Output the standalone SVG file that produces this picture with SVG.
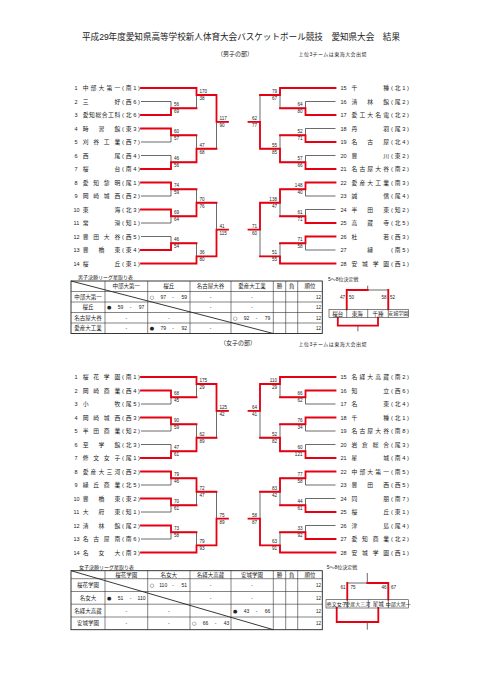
<svg xmlns="http://www.w3.org/2000/svg" xmlns:xlink="http://www.w3.org/1999/xlink" width="481" height="680" viewBox="0 0 481 680">
<style>
.g{fill:none;stroke:#444;stroke-width:0.8}
.r{fill:none;stroke:#e60012;stroke-width:1.8;stroke-linecap:square}
.tb{fill:none;stroke:#333;stroke-width:0.6}
.tbo{fill:none;stroke:#222;stroke-width:0.9}
text{font-family:"Liberation Sans","Noto Sans CJK JP",sans-serif;fill:#222}
.n{font-size:5.5px}
.t{font-size:5.8px}
.s{font-size:4.6px}
.se{font-size:4.6px;text-anchor:end}
.h{font-size:5.5px;text-anchor:middle}
.c{font-size:5px;text-anchor:middle}
.m{font-size:5px;text-anchor:middle;font-family:"DejaVu Sans",sans-serif}
.sm{font-size:5px}
</style>
<defs>
<path id="qt" class="g" d="M141 88H196.5M141 101.5H171M141 115H171M141 128.5H171M141 142H171M141 155.5H171M141 169H171M171 101.5V115M171 128.5V142M171 155.5V169M171 108.25H196.5M171 135.25H196.5M171 162.25H196.5M196.5 88V108.25M196.5 135.25V162.25M196.5 95H216.5M196.5 148.75H216.5M216.5 95V148.75M216.5 121.9H228"/>
<path id="qb" class="g" d="M141 182.5H171M141 196H171M141 209.5H171M141 223H171M141 236.5H171M141 250H171M141 263.5H196.5M171 182.5V196M171 209.5V223M171 236.5V250M171 189.25H196.5M171 216.25H196.5M171 243.25H196.5M196.5 189.25V216.25M196.5 243.25V263.5M196.5 202.75H216.5M196.5 256.4H216.5M216.5 202.75V256.4M216.5 229.6H228"/>
</defs>
<rect width="481" height="680" fill="#fff"/>
<g id="title">
<text x="82" y="40" font-size="8.6" textLength="318">平成29年度愛知県高等学校新人体育大会バスケットボール競技　愛知県大会　結果</text>
<text x="217" y="56" font-size="6" textLength="36">（男子の部）</text>
<text x="298.5" y="56" font-size="5" textLength="68">上位3チームは東海大会出場</text>
<text x="220" y="345" font-size="6" textLength="36">（女子の部）</text>
<text x="298.5" y="346" font-size="5" textLength="68">上位3チームは東海大会出場</text>
</g>
<g id="connectors">
<g id="m-left">
<use xlink:href="#qt"/><use xlink:href="#qb"/>
<path class="r" d="M141 88H196.5V95H216.5V121.9H228M141 115H171V108.25H196.5M141 128.5H171V135.25H196.5M141 169H171V162.25H196.5V148.75H216.5M141 182.5H171V189.25H196.5M141 209.5H171V216.25H196.5V202.75H216.5M141 250H171V243.25H196.5M141 263.5H196.5V256.4H216.5V229.6H228"/>
</g>
<g id="m-right" transform="matrix(-1 0 0 1 476.5 0)">
<use xlink:href="#qt"/><use xlink:href="#qb"/>
<path class="r" d="M141 88H196.5V95H216.5M141 115H171V108.25H196.5M141 142H171V135.25H196.5M141 169H171V162.25H196.5V148.75H216.5V121.9H228M141 182.5H171V189.25H196.5V202.75H216.5V229.6H228M141 223H171V216.25H196.5M141 236.5H171V243.25H196.5M141 263.5H196.5V256.4H216.5"/>
</g>
<g id="f-left" transform="translate(0 289)">
<use xlink:href="#qt"/><use xlink:href="#qb"/>
<path class="r" d="M141 88H196.5V95H216.5V121.9H228M141 101.5H171V108.25H196.5M141 128.5H171V135.25H196.5M141 169H171V162.25H196.5V148.75H216.5M141 182.5H171V189.25H196.5V202.75H216.5M141 209.5H171V216.25H196.5M141 236.5H171V243.25H196.5M141 263.5H196.5V256.4H216.5V229.6H228"/>
</g>
<g id="f-right" transform="matrix(-1 0 0 1 476.5 289)">
<use xlink:href="#qt"/><use xlink:href="#qb"/>
<path class="r" d="M141 88H196.5V95H216.5V121.9H228M141 101.5H171V108.25H196.5M141 128.5H171V135.25H196.5M141 169H171V162.25H196.5V148.75H216.5M141 182.5H171V189.25H196.5V202.75H216.5M141 223H171V216.25H196.5M141 250H171V243.25H196.5M141 263.5H196.5V256.4H216.5V229.6H228"/>
</g>
</g>
<g id="male-teams-left">
<text class="n" x="74.5" y="90.1">1</text><text class="t" x="82.7" y="90.1" textLength="37.5">中部大第一</text><text class="t" x="122" y="90.1" textLength="18">(南1)</text>
<text class="n" x="74.5" y="103.6">2</text><text class="t" x="82.7" y="103.6" textLength="37.5">三好</text><text class="t" x="122" y="103.6" textLength="18">(西6)</text>
<text class="n" x="74.5" y="117.1">3</text><text class="t" x="82.7" y="117.1" textLength="37.5">愛知総合工科</text><text class="t" x="122" y="117.1" textLength="18">(北6)</text>
<text class="n" x="74.5" y="130.6">4</text><text class="t" x="82.7" y="130.6" textLength="37.5">時習館</text><text class="t" x="122" y="130.6" textLength="18">(東3)</text>
<text class="n" x="74.5" y="144.1">5</text><text class="t" x="82.7" y="144.1" textLength="37.5">刈谷工業</text><text class="t" x="122" y="144.1" textLength="18">(西7)</text>
<text class="n" x="74.5" y="157.6">6</text><text class="t" x="82.7" y="157.6" textLength="37.5">西尾</text><text class="t" x="122" y="157.6" textLength="18">(西4)</text>
<text class="n" x="74.5" y="171.1">7</text><text class="t" x="82.7" y="171.1" textLength="37.5">桜台</text><text class="t" x="122" y="171.1" textLength="18">(南4)</text>
<text class="n" x="74.5" y="184.6">8</text><text class="t" x="82.7" y="184.6" textLength="37.5">愛知黎明</text><text class="t" x="122" y="184.6" textLength="18">(尾1)</text>
<text class="n" x="74.5" y="198.1">9</text><text class="t" x="82.7" y="198.1" textLength="37.5">岡崎城西</text><text class="t" x="122" y="198.1" textLength="18">(西2)</text>
<text class="n" x="73.5" y="211.6">10</text><text class="t" x="82.7" y="211.6" textLength="37.5">東海</text><text class="t" x="122" y="211.6" textLength="18">(北3)</text>
<text class="n" x="73.5" y="225.1">11</text><text class="t" x="82.7" y="225.1" textLength="37.5">常滑</text><text class="t" x="122" y="225.1" textLength="18">(知1)</text>
<text class="n" x="73.5" y="238.6">12</text><text class="t" x="82.7" y="238.6" textLength="37.5">豊田大谷</text><text class="t" x="122" y="238.6" textLength="18">(西5)</text>
<text class="n" x="73.5" y="252.1">13</text><text class="t" x="82.7" y="252.1" textLength="37.5">豊橋東</text><text class="t" x="122" y="252.1" textLength="18">(東4)</text>
<text class="n" x="73.5" y="265.6">14</text><text class="t" x="82.7" y="265.6" textLength="37.5">桜丘</text><text class="t" x="122" y="265.6" textLength="18">(東1)</text>
</g>
<g id="male-teams-right">
<text class="n" x="340.5" y="90.1">15</text><text class="t" x="351.5" y="90.1" textLength="37.5">千種</text><text class="t" x="391" y="90.1" textLength="18">(北1)</text>
<text class="n" x="340.5" y="103.6">16</text><text class="t" x="351.5" y="103.6" textLength="37.5">清林館</text><text class="t" x="391" y="103.6" textLength="18">(尾2)</text>
<text class="n" x="340.5" y="117.1">17</text><text class="t" x="351.5" y="117.1" textLength="37.5">愛工大名電</text><text class="t" x="391" y="117.1" textLength="18">(北2)</text>
<text class="n" x="340.5" y="130.6">18</text><text class="t" x="351.5" y="130.6" textLength="37.5">丹羽</text><text class="t" x="391" y="130.6" textLength="18">(尾3)</text>
<text class="n" x="340.5" y="144.1">19</text><text class="t" x="351.5" y="144.1" textLength="37.5">名古屋</text><text class="t" x="391" y="144.1" textLength="18">(北4)</text>
<text class="n" x="340.5" y="157.6">20</text><text class="t" x="351.5" y="157.6" textLength="37.5">豊川</text><text class="t" x="391" y="157.6" textLength="18">(東2)</text>
<text class="n" x="340.5" y="171.1">21</text><text class="t" x="351.5" y="171.1" textLength="37.5">名古屋大谷</text><text class="t" x="391" y="171.1" textLength="18">(南2)</text>
<text class="n" x="340.5" y="184.6">22</text><text class="t" x="351.5" y="184.6" textLength="37.5">愛産大工業</text><text class="t" x="391" y="184.6" textLength="18">(南3)</text>
<text class="n" x="340.5" y="198.1">23</text><text class="t" x="351.5" y="198.1" textLength="37.5">誠信</text><text class="t" x="391" y="198.1" textLength="18">(尾4)</text>
<text class="n" x="340.5" y="211.6">24</text><text class="t" x="351.5" y="211.6" textLength="37.5">半田東</text><text class="t" x="391" y="211.6" textLength="18">(知2)</text>
<text class="n" x="340.5" y="225.1">25</text><text class="t" x="351.5" y="225.1" textLength="37.5">高蔵寺</text><text class="t" x="391" y="225.1" textLength="18">(北5)</text>
<text class="n" x="340.5" y="238.6">26</text><text class="t" x="351.5" y="238.6" textLength="37.5">杜若</text><text class="t" x="391" y="238.6" textLength="18">(西3)</text>
<text class="n" x="340.5" y="252.1">27</text><text class="t" x="367.3" y="252.1">緑</text><text class="t" x="391" y="252.1" textLength="18">(南5)</text>
<text class="n" x="340.5" y="265.6">28</text><text class="t" x="351.5" y="265.6" textLength="37.5">安城学園</text><text class="t" x="391" y="265.6" textLength="18">(西1)</text>
</g>
<g id="female-teams-left">
<text class="n" x="74.5" y="379.1">1</text><text class="t" x="82.7" y="379.1" textLength="37.5">桜花学園</text><text class="t" x="122" y="379.1" textLength="18">(南1)</text>
<text class="n" x="74.5" y="392.6">2</text><text class="t" x="82.7" y="392.6" textLength="37.5">岡崎商業</text><text class="t" x="122" y="392.6" textLength="18">(西4)</text>
<text class="n" x="74.5" y="406.1">3</text><text class="t" x="82.7" y="406.1" textLength="37.5">小牧</text><text class="t" x="122" y="406.1" textLength="18">(尾5)</text>
<text class="n" x="74.5" y="419.6">4</text><text class="t" x="82.7" y="419.6" textLength="37.5">岡崎城西</text><text class="t" x="122" y="419.6" textLength="18">(西3)</text>
<text class="n" x="74.5" y="433.1">5</text><text class="t" x="82.7" y="433.1" textLength="37.5">半田商業</text><text class="t" x="122" y="433.1" textLength="18">(知2)</text>
<text class="n" x="74.5" y="446.6">6</text><text class="t" x="82.7" y="446.6" textLength="37.5">至学館</text><text class="t" x="122" y="446.6" textLength="18">(北3)</text>
<text class="n" x="74.5" y="460.1">7</text><text class="t" x="82.7" y="460.1" textLength="37.5">修文女子</text><text class="t" x="122" y="460.1" textLength="18">(尾1)</text>
<text class="n" x="74.5" y="473.6">8</text><text class="t" x="82.7" y="473.6" textLength="37.5">愛産大三河</text><text class="t" x="122" y="473.6" textLength="18">(西2)</text>
<text class="n" x="74.5" y="487.1">9</text><text class="t" x="82.7" y="487.1" textLength="37.5">緑丘商業</text><text class="t" x="122" y="487.1" textLength="18">(北5)</text>
<text class="n" x="73.5" y="500.6">10</text><text class="t" x="82.7" y="500.6" textLength="37.5">豊橋東</text><text class="t" x="122" y="500.6" textLength="18">(東2)</text>
<text class="n" x="73.5" y="514.1">11</text><text class="t" x="82.7" y="514.1" textLength="37.5">大府東</text><text class="t" x="122" y="514.1" textLength="18">(知1)</text>
<text class="n" x="73.5" y="527.6">12</text><text class="t" x="82.7" y="527.6" textLength="37.5">清林館</text><text class="t" x="122" y="527.6" textLength="18">(尾2)</text>
<text class="n" x="73.5" y="541.1">13</text><text class="t" x="82.7" y="541.1" textLength="37.5">名古屋南</text><text class="t" x="122" y="541.1" textLength="18">(南6)</text>
<text class="n" x="73.5" y="554.6">14</text><text class="t" x="82.7" y="554.6" textLength="37.5">名女大</text><text class="t" x="122" y="554.6" textLength="18">(南3)</text>
</g>
<g id="female-teams-right">
<text class="n" x="340.5" y="379.1">15</text><text class="t" x="351.5" y="379.1" textLength="37.5">名経大高蔵</text><text class="t" x="391" y="379.1" textLength="18">(南2)</text>
<text class="n" x="340.5" y="392.6">16</text><text class="t" x="351.5" y="392.6" textLength="37.5">知立</text><text class="t" x="391" y="392.6" textLength="18">(西6)</text>
<text class="n" x="340.5" y="406.1">17</text><text class="t" x="351.5" y="406.1" textLength="37.5">名東</text><text class="t" x="391" y="406.1" textLength="18">(北4)</text>
<text class="n" x="340.5" y="419.6">18</text><text class="t" x="351.5" y="419.6" textLength="37.5">千種</text><text class="t" x="391" y="419.6" textLength="18">(北1)</text>
<text class="n" x="340.5" y="433.1">19</text><text class="t" x="351.5" y="433.1" textLength="37.5">名古屋大谷</text><text class="t" x="391" y="433.1" textLength="18">(南8)</text>
<text class="n" x="340.5" y="446.6">20</text><text class="t" x="351.5" y="446.6" textLength="37.5">岩倉総合</text><text class="t" x="391" y="446.6" textLength="18">(尾3)</text>
<text class="n" x="340.5" y="460.1">21</text><text class="t" x="351.5" y="460.1" textLength="37.5">星城</text><text class="t" x="391" y="460.1" textLength="18">(南4)</text>
<text class="n" x="340.5" y="473.6">22</text><text class="t" x="351.5" y="473.6" textLength="37.5">中部大第一</text><text class="t" x="391" y="473.6" textLength="18">(南5)</text>
<text class="n" x="340.5" y="487.1">23</text><text class="t" x="351.5" y="487.1" textLength="37.5">豊田西</text><text class="t" x="391" y="487.1" textLength="18">(西5)</text>
<text class="n" x="340.5" y="500.6">24</text><text class="t" x="351.5" y="500.6" textLength="37.5">同朋</text><text class="t" x="391" y="500.6" textLength="18">(南7)</text>
<text class="n" x="340.5" y="514.1">25</text><text class="t" x="351.5" y="514.1" textLength="37.5">桜丘</text><text class="t" x="391" y="514.1" textLength="18">(東1)</text>
<text class="n" x="340.5" y="527.6">26</text><text class="t" x="351.5" y="527.6" textLength="37.5">津島</text><text class="t" x="391" y="527.6" textLength="18">(尾4)</text>
<text class="n" x="340.5" y="541.1">27</text><text class="t" x="351.5" y="541.1" textLength="37.5">愛知商業</text><text class="t" x="391" y="541.1" textLength="18">(北2)</text>
<text class="n" x="340.5" y="554.6">28</text><text class="t" x="351.5" y="554.6" textLength="37.5">安城学園</text><text class="t" x="391" y="554.6" textLength="18">(西1)</text>
</g>
<g id="scores">
<text class="s" x="174" y="106.25">56</text><text class="s" x="174" y="113.25">69</text>
<text class="s" x="174" y="133.25">60</text><text class="s" x="174" y="140.25">57</text>
<text class="s" x="174" y="160.25">46</text><text class="s" x="174" y="167.25">56</text>
<text class="s" x="199.5" y="93">170</text><text class="s" x="199.5" y="100">38</text>
<text class="s" x="199.5" y="146.75">47</text><text class="s" x="199.5" y="153.75">68</text>
<text class="s" x="219.5" y="119.9">117</text><text class="s" x="219.5" y="126.9">90</text>
<text class="s" x="174" y="187.25">74</text><text class="s" x="174" y="194.25">59</text>
<text class="s" x="174" y="214.25">69</text><text class="s" x="174" y="221.25">64</text>
<text class="s" x="174" y="241.25">46</text><text class="s" x="174" y="248.25">54</text>
<text class="s" x="199.5" y="200.75">70</text><text class="s" x="199.5" y="207.75">76</text>
<text class="s" x="199.5" y="254.4">36</text><text class="s" x="199.5" y="261.4">80</text>
<text class="s" x="219.5" y="227.6">41</text><text class="s" x="219.5" y="234.6">115</text>
<text class="se" x="302.5" y="106.25">64</text><text class="se" x="302.5" y="113.25">80</text>
<text class="se" x="302.5" y="133.25">52</text><text class="se" x="302.5" y="140.25">71</text>
<text class="se" x="302.5" y="160.25">57</text><text class="se" x="302.5" y="167.25">66</text>
<text class="se" x="277" y="93">79</text><text class="se" x="277" y="100">67</text>
<text class="se" x="277" y="146.75">55</text><text class="se" x="277" y="153.75">85</text>
<text class="se" x="257" y="119.9">62</text><text class="se" x="257" y="126.9">77</text>
<text class="se" x="302.5" y="187.25">148</text><text class="se" x="302.5" y="194.25">40</text>
<text class="se" x="302.5" y="214.25">61</text><text class="se" x="302.5" y="221.25">71</text>
<text class="se" x="302.5" y="241.25">71</text><text class="se" x="302.5" y="248.25">58</text>
<text class="se" x="277" y="200.75">138</text><text class="se" x="277" y="207.75">47</text>
<text class="se" x="277" y="254.4">51</text><text class="se" x="277" y="261.4">55</text>
<text class="se" x="257" y="227.6">71</text><text class="se" x="257" y="234.6">60</text>
<text class="s" x="174" y="395.25">68</text><text class="s" x="174" y="402.25">45</text>
<text class="s" x="174" y="422.25">90</text><text class="s" x="174" y="429.25">59</text>
<text class="s" x="174" y="449.25">47</text><text class="s" x="174" y="456.25">61</text>
<text class="s" x="199.5" y="382">175</text><text class="s" x="199.5" y="389">29</text>
<text class="s" x="199.5" y="435.75">62</text><text class="s" x="199.5" y="442.75">89</text>
<text class="s" x="219.5" y="408.9">125</text><text class="s" x="219.5" y="415.9">42</text>
<text class="s" x="174" y="476.25">79</text><text class="s" x="174" y="483.25">46</text>
<text class="s" x="174" y="503.25">70</text><text class="s" x="174" y="510.25">61</text>
<text class="s" x="174" y="530.25">73</text><text class="s" x="174" y="537.25">58</text>
<text class="s" x="199.5" y="489.75">72</text><text class="s" x="199.5" y="496.75">47</text>
<text class="s" x="199.5" y="543.4">79</text><text class="s" x="199.5" y="550.4">93</text>
<text class="s" x="219.5" y="516.6">75</text><text class="s" x="219.5" y="523.6">89</text>
<text class="se" x="302.5" y="395.25">66</text><text class="se" x="302.5" y="402.25">62</text>
<text class="se" x="302.5" y="422.25">76</text><text class="se" x="302.5" y="429.25">34</text>
<text class="se" x="302.5" y="449.25">60</text><text class="se" x="302.5" y="456.25">121</text>
<text class="se" x="277" y="382">110</text><text class="se" x="277" y="389">29</text>
<text class="se" x="277" y="435.75">52</text><text class="se" x="277" y="442.75">82</text>
<text class="se" x="257" y="408.9">64</text><text class="se" x="257" y="415.9">41</text>
<text class="se" x="302.5" y="476.25">77</text><text class="se" x="302.5" y="483.25">58</text>
<text class="se" x="302.5" y="503.25">44</text><text class="se" x="302.5" y="510.25">61</text>
<text class="se" x="302.5" y="530.25">33</text><text class="se" x="302.5" y="537.25">92</text>
<text class="se" x="277" y="489.75">83</text><text class="se" x="277" y="496.75">42</text>
<text class="se" x="277" y="543.4">63</text><text class="se" x="277" y="550.4">91</text>
<text class="se" x="257" y="516.6">58</text><text class="se" x="257" y="523.6">87</text>
</g>
<g id="male-league">
<text class="sm" x="78" y="279">男子決勝リーグ星取り表</text>
<rect class="tbo" x="71" y="281" width="251.3" height="52.5"/>
<path class="tb" d="M105 281V333.5M147.7 281V333.5M190 281V333.5M231 281V333.5M273.3 281V333.5M285.7 281V333.5M297.7 281V333.5M71 291.5H322.3M71 302H322.3M71 312.5H322.3M71 323H322.3"/>
<path class="tbo" d="M71 281L273.3 333.5"/>
<text class="h" x="126.3" y="288.3">中部大第一</text><text class="h" x="168.8" y="288.3">桜丘</text><text class="h" x="210.5" y="288.3">名古屋大谷</text><text class="h" x="252.1" y="288.3">愛産大工業</text><text class="h" x="279.5" y="288.3">勝</text><text class="h" x="291.7" y="288.3">負</text><text class="h" x="310" y="288.3">順位</text>
<text class="h" x="88" y="298.8">中部大第一</text><text class="h" x="88" y="309.3">桜丘</text><text class="h" x="88" y="319.8">名古屋大谷</text><text class="h" x="88" y="330.3">愛産大工業</text>
<text class="m" x="151.9" y="298.8">○</text><text class="c" x="163.2" y="298.8">97</text><text class="c" x="173.2" y="298.8">-</text><text class="c" x="184.2" y="298.8">59</text>
<text class="c" x="210.5" y="298.8">-</text><text class="c" x="252.1" y="298.8">-</text>
<text class="m" x="109.3" y="309.3">●</text><text class="c" x="120.5" y="309.3">59</text><text class="c" x="130.5" y="309.3">-</text><text class="c" x="141.5" y="309.3">97</text>
<text class="c" x="210.5" y="309.3">-</text><text class="c" x="252.1" y="309.3">-</text>
<text class="c" x="126.3" y="319.8">-</text><text class="c" x="168.8" y="319.8">-</text>
<text class="m" x="235.3" y="319.8">○</text><text class="c" x="246.5" y="319.8">92</text><text class="c" x="256.5" y="319.8">-</text><text class="c" x="267.5" y="319.8">79</text>
<text class="c" x="126.3" y="330.3">-</text>
<text class="m" x="151.9" y="330.3">●</text><text class="c" x="163.2" y="330.3">79</text><text class="c" x="173.2" y="330.3">-</text><text class="c" x="184.2" y="330.3">92</text>
<text class="c" x="210.5" y="330.3">-</text>
<text class="se" x="321" y="298.8">12</text><text class="se" x="321" y="309.3">12</text><text class="se" x="321" y="319.8">12</text><text class="se" x="321" y="330.3">12</text>
</g>
<g id="female-league">
<text class="sm" x="79" y="568.5">女子決勝リーグ星取り表</text>
<rect class="tbo" x="71" y="570.7" width="251.3" height="59"/>
<path class="tb" d="M105 570.7V629.7M147.7 570.7V629.7M190 570.7V629.7M231 570.7V629.7M273.3 570.7V629.7M285.7 570.7V629.7M297.7 570.7V629.7M71 578.7H322.3M71 591.5H322.3M71 604.2H322.3M71 617H322.3"/>
<path class="tbo" d="M71 570.7L273.3 629.7"/>
<text class="h" x="126.3" y="576.6">桜花学園</text><text class="h" x="168.8" y="576.6">名女大</text><text class="h" x="210.5" y="576.6">名経大高蔵</text><text class="h" x="252.1" y="576.6">安城学園</text><text class="h" x="279.5" y="576.6">勝</text><text class="h" x="291.7" y="576.6">負</text><text class="h" x="310" y="576.6">順位</text>
<text class="h" x="88" y="587">桜花学園</text><text class="h" x="88" y="599.8">名女大</text><text class="h" x="88" y="612.5">名経大高蔵</text><text class="h" x="88" y="625.3">安城学園</text>
<text class="m" x="151.9" y="587">○</text><text class="c" x="163.2" y="587">110</text><text class="c" x="173.2" y="587">-</text><text class="c" x="184.2" y="587">51</text>
<text class="c" x="210.5" y="587">-</text><text class="c" x="252.1" y="587">-</text>
<text class="m" x="109.3" y="599.8">●</text><text class="c" x="120.5" y="599.8">51</text><text class="c" x="130.5" y="599.8">-</text><text class="c" x="141.5" y="599.8">110</text>
<text class="c" x="210.5" y="599.8">-</text><text class="c" x="252.1" y="599.8">-</text>
<text class="c" x="126.3" y="612.5">-</text><text class="c" x="168.8" y="612.5">-</text>
<text class="m" x="235.3" y="612.5">●</text><text class="c" x="246.5" y="612.5">43</text><text class="c" x="256.5" y="612.5">-</text><text class="c" x="267.5" y="612.5">66</text>
<text class="c" x="126.3" y="625.3">-</text><text class="c" x="168.8" y="625.3">-</text>
<text class="m" x="194.2" y="625.3">○</text><text class="c" x="205.5" y="625.3">66</text><text class="c" x="215.5" y="625.3">-</text><text class="c" x="226.5" y="625.3">43</text>
<text class="se" x="321" y="587">12</text><text class="se" x="321" y="599.8">12</text><text class="se" x="321" y="612.5">12</text><text class="se" x="321" y="625.3">12</text>
</g>
<g id="male-5-8">
<text class="sm" x="328" y="280.5">5～8位決定戦</text>
<path class="g" d="M367.7 285.7V290M346.7 290H388.3M346.7 290V309.3M388.3 290V309.3M357.9 325.7V331.3"/>
<path class="r" d="M346.7 309.3V290H367.7M388.3 309.3V290M337.8 317.7V325.7H378V317.7"/>
<rect class="tb" x="329" y="309.3" width="79.3" height="8.4"/>
<path class="tb" d="M346.7 309.3V317.7M367.7 309.3V317.7M388.3 309.3V317.7"/>
<text class="se" x="345" y="298.5">47</text><text class="s" x="349" y="298.5">50</text><text class="se" x="386.5" y="298.5">58</text><text class="s" x="390" y="298.5">52</text>
<text class="h" x="337.8" y="315.6">桜台</text><text class="h" x="357.2" y="315.6">東海</text><text class="h" x="378" y="315.6">千種</text><text class="c" x="398.3" y="315.3" font-size="3.6">安城学園</text>
</g>
<g id="female-5-8">
<text class="sm" x="326.7" y="568.5">5～8位決定戦</text>
<path class="g" d="M367.3 573V583M347.3 583H388.3M347.3 583V599.7M388.3 583V599.7M367.3 622V629.7"/>
<path class="r" d="M347.3 599.7V583M388.3 599.7V583H367.3M336.7 608V622H378.3V608"/>
<rect class="tb" x="326" y="599.7" width="82.3" height="8.3"/>
<path class="tb" d="M347.3 599.7V608M368.3 599.7V608M388.3 599.7V608"/>
<text class="se" x="345.5" y="588.5">61</text><text class="s" x="350.5" y="588.5">75</text><text class="se" x="386.5" y="588.5">46</text><text class="s" x="391" y="588.5">67</text>
<text class="c" x="336.7" y="605.8">修文女子</text><text class="c" x="357.8" y="605.5" font-size="3.6" fill="#777">愛産大三河</text><text class="h" x="378.3" y="605.8">星城</text><text class="c" x="398.3" y="605.5" font-size="3.6" fill="#777">中部大第一</text>
</g>
</svg>
